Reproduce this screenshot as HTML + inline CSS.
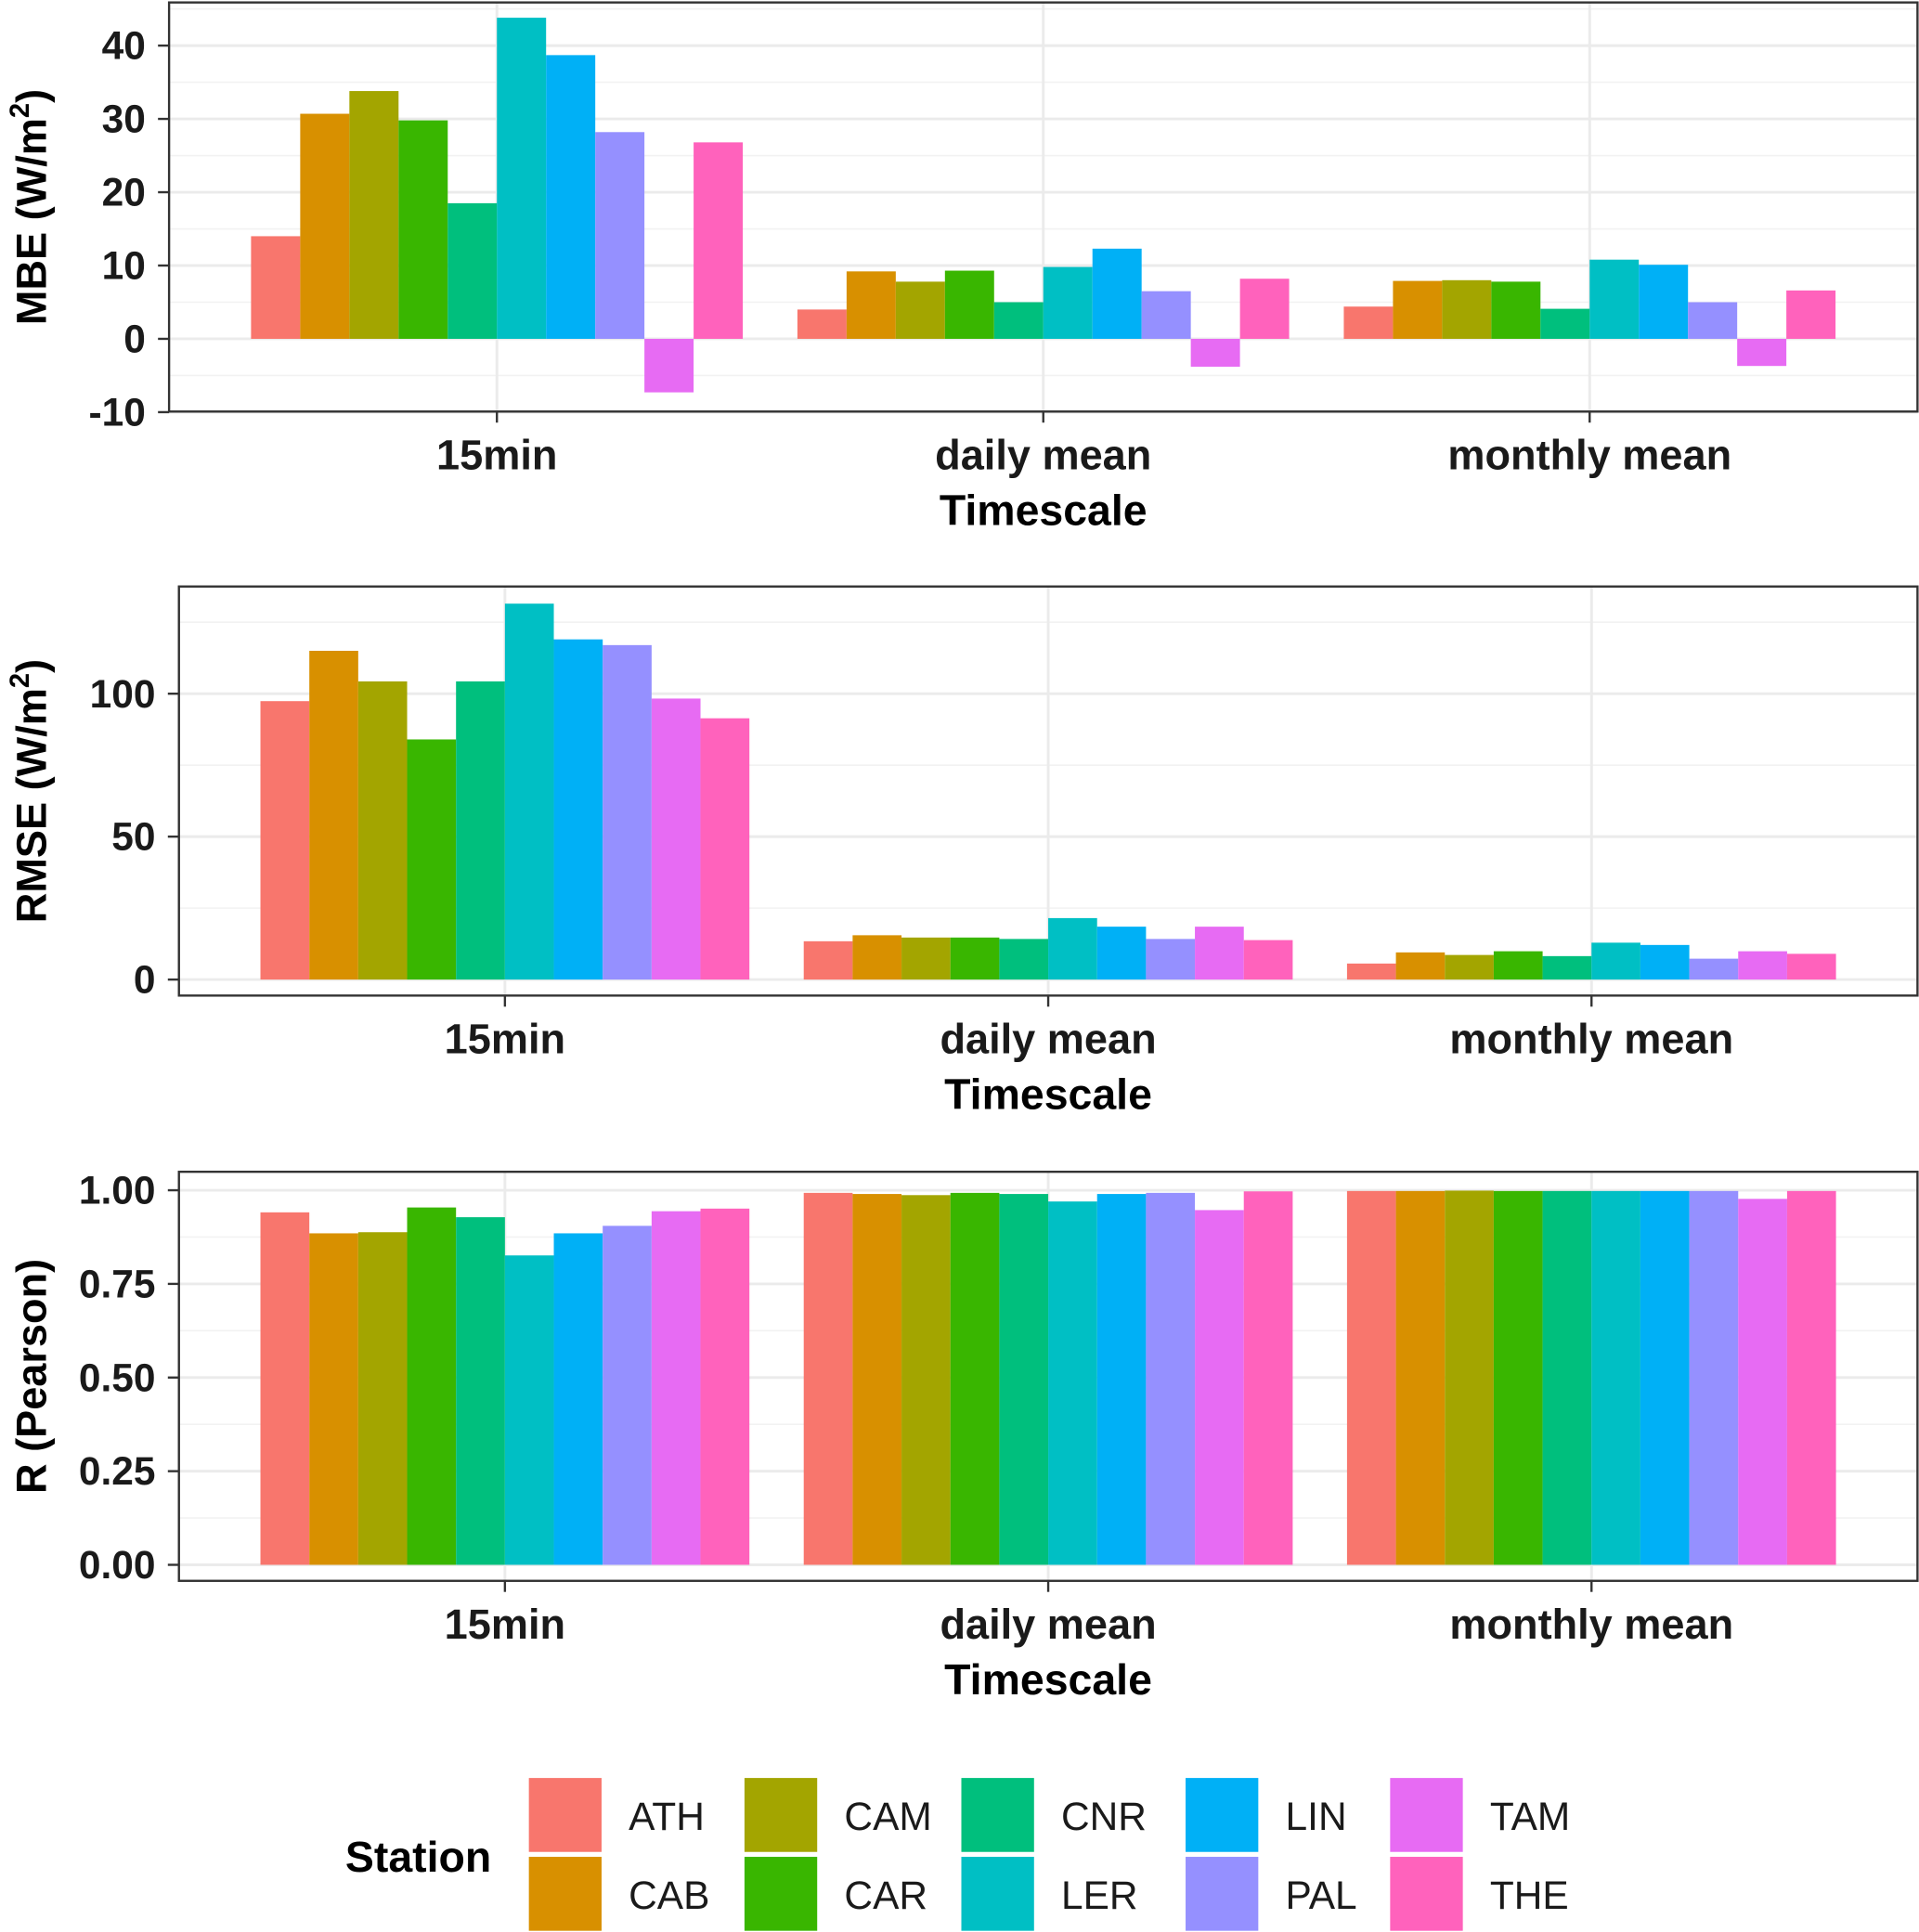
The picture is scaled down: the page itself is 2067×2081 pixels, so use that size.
<!DOCTYPE html>
<html><head><meta charset="utf-8"><style>
html,body{margin:0;padding:0;background:#fff}
svg{display:block}
text{font-family:"Liberation Sans",Arial,sans-serif}
</style></head><body>
<svg id="chart" width="2067" height="2081" viewBox="0 0 1557 1568" xmlns="http://www.w3.org/2000/svg"></svg>
<script>
const stations = ["ATH","CAB","CAM","CAR","CNR","LER","LIN","PAL","TAM","THE"];
const colors = ["#F8766D","#D89000","#A3A500","#39B600","#00BF7D","#00BFC4","#00B0F6","#9590FF","#E76BF3","#FF62BC"];
const timescales = ["15min","daily mean","monthly mean"];
const mbe15 = [14,30.7,33.8,29.8,18.5,43.8,38.7,28.2,-7.3,26.8];
const mbeDaily = [4,9.2,7.8,9.3,5,9.8,12.3,6.5,-3.8,8.2];
const mbeMonthly = [4.4,7.9,8,7.8,4.1,10.8,10.1,5,-3.7,6.6];
const rmse15 = [97.4,115,104.3,84,104.3,131.5,119,117,98.3,91.4];
const rmseDaily = [13.4,15.5,14.7,14.7,14.2,21.5,18.5,14.2,18.5,13.8];
const rmseMonthly = [5.6,9.5,8.6,9.9,8.2,12.9,12.1,7.3,9.9,9];
const r15 = [0.941,0.885,0.888,0.954,0.928,0.826,0.885,0.905,0.944,0.951];
const rDaily = [0.993,0.99,0.987,0.993,0.99,0.97,0.99,0.993,0.947,0.997];
const rMonthly = [0.998,0.998,0.999,0.998,0.998,0.998,0.998,0.998,0.977,0.998];
const mbeTicks = [-10,0,10,20,30,40];
const rmseTicks = [0,50,100];
const rTicks = [0,0.25,0.5,0.75,1.0];
const rTickLabels = ["0.00","0.25","0.50","0.75","1.00"];

const NS="http://www.w3.org/2000/svg";
const svg=document.getElementById('chart');
function mk(tag,attrs,parent){const e=document.createElementNS(NS,tag);for(const k in attrs)e.setAttribute(k,attrs[k]);(parent||svg).appendChild(e);return e;}

function panel(o){
  const g=mk('g',{});
  
  
  const yScale=v=>o.y0px+(v-o.v0)*(o.y1px-o.y0px)/(o.v1-o.v0);
  for(let i=0;i<o.ticks.length-1;i++){const m=(o.ticks[i]+o.ticks[i+1])/2;mk('line',{x1:o.L,x2:o.R,y1:yScale(m),y2:yScale(m),stroke:'#f2f2f2','stroke-width':1.2},g);}
  if(o.extraMinor) o.extraMinor.forEach(m=>mk('line',{x1:o.L,x2:o.R,y1:yScale(m),y2:yScale(m),stroke:'#f2f2f2','stroke-width':1.2},g));
  o.ticks.forEach(t=>mk('line',{x1:o.L,x2:o.R,y1:yScale(t),y2:yScale(t),stroke:'#ebebeb','stroke-width':2.2},g));
  const unit=(o.R-o.L)/3.2;
  const cx=i=>o.L+unit*(0.6+i);
  timescales.forEach((t,i)=>mk('line',{x1:cx(i),x2:cx(i),y1:o.T,y2:o.B,stroke:'#ebebeb','stroke-width':2.2},g));
  const bw=unit*0.9/10;
  o.series.forEach((arr,gi)=>{
    arr.forEach((v,si)=>{
      const x=cx(gi)-unit*0.45+si*bw;
      const y1=yScale(Math.max(v,0)),y2=yScale(Math.min(v,0));
      const r=mk('rect',{x:x,y:y1,width:bw,height:Math.max(0.5,y2-y1),fill:colors[si]},g);
      
      
    });
  });
  mk('rect',{x:o.L,y:o.T,width:o.R-o.L,height:o.B-o.T,fill:'none',stroke:'#333','stroke-width':1.8},g);
  o.ticks.forEach((t,i)=>{
    mk('line',{x1:o.L-9,x2:o.L,y1:yScale(t),y2:yScale(t),stroke:'#333','stroke-width':1.8},g);
    const tx=mk('text',{x:o.L-19,y:yScale(t)+11,'text-anchor':'end','font-size':32,'font-weight':'bold',fill:'#1a1a1a'},g);
    tx.textContent=o.labels?o.labels[i]:String(t);
  });
  timescales.forEach((t,i)=>{
    mk('line',{x1:cx(i),x2:cx(i),y1:o.B,y2:o.B+9,stroke:'#333','stroke-width':1.8},g);
    const tx=mk('text',{x:cx(i),y:o.B+47,'text-anchor':'middle','font-size':34,'font-weight':'bold',fill:'#1a1a1a'},g);
    tx.textContent=t;
  });
  const xt=mk('text',{x:(o.L+o.R)/2,y:o.B+92,'text-anchor':'middle','font-size':35,'font-weight':'bold',fill:'#000'},g);
  xt.textContent='Timescale';
  
  
  const yc=(o.T+o.B)/2;
  const yt=mk('text',{x:0,y:0,transform:`translate(37,${yc}) rotate(-90)`,'text-anchor':'middle','font-size':34,'font-weight':'bold',fill:'#000'},g);
  
  
  if(o.unit){yt.innerHTML=o.ytitle+' (W/m<tspan font-size="22" dy="-14">2</tspan><tspan dy="14">)</tspan>';}
  else yt.textContent=o.ytitle;
}
panel({name:'mbe-panel',L:137,R:1556,T:2,B:334,v0:0,v1:40,y0px:275,y1px:37,ticks:mbeTicks,extraMinor:[45],series:[mbe15,mbeDaily,mbeMonthly],ytitle:'MBE',unit:true});
panel({name:'rmse-panel',L:145,R:1556,T:476,B:808,v0:0,v1:100,y0px:795,y1px:563,ticks:rmseTicks,extraMinor:[125],series:[rmse15,rmseDaily,rmseMonthly],ytitle:'RMSE',unit:true});
panel({name:'r-panel',L:145,R:1556,T:951,B:1283,v0:0,v1:1,y0px:1270,y1px:966,ticks:rTicks,labels:rTickLabels,series:[r15,rDaily,rMonthly],ytitle:'R (Pearson)',unit:false});

const lg=mk('g',{});


const lt=mk('text',{x:280,y:1519,'font-size':35,'font-weight':'bold',fill:'#000'},lg);
lt.textContent='Station';
const colX=[429,604,780,962,1128];
stations.forEach((s,i)=>{
  const c=Math.floor(i/2),r=i%2;
  const x=colX[c],y=1443+r*64;
  const k=mk('rect',{x:x,y:y,width:59,height:60,fill:colors[i]},lg);
  
  
  const t=mk('text',{x:x+81,y:y+42,'font-size':32,fill:'#1a1a1a'},lg);
  t.textContent=s;
  
  
});
</script>
</body></html>
